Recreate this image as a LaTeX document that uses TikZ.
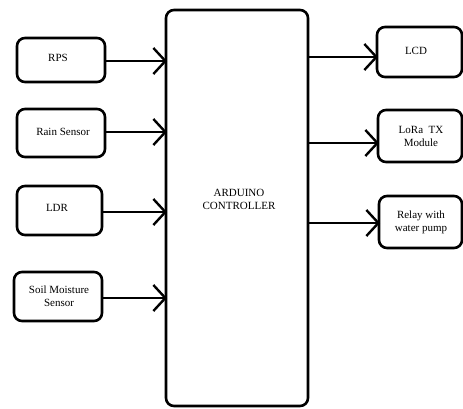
\documentclass[tikz,border=0pt]{standalone}
\usepackage{fontspec}
\setmainfont{Liberation Serif}
\usetikzlibrary{arrows.meta}
\begin{document}
\begin{tikzpicture}[x=1pt,y=-1pt,
  blk/.style={draw,line width=2.6pt,rounded corners=8pt,fill=white},
  conn/.style={line width=2.6pt,-{Straight Barb[length=12pt,width=26pt,line width=2.4pt]}},
  lbl/.style={font=\fontsize{11}{13}\selectfont,align=center,inner sep=0pt}]
\useasboundingbox (0,0) rectangle (463,408);
\fill[white] (0,0) rectangle (463,408);
% central controller
\draw[blk] (166,10) rectangle (308,406);
\node[lbl] (ctrl) at (239,199) {ARDUINO\\CONTROLLER};
% input boxes
\draw[blk] (17,38) rectangle (105,82);
\node[lbl] (rps) at (58,58) {RPS};
\draw[blk] (17,109) rectangle (105,157);
\node[lbl] (rain) at (63,132) {Rain Sensor};
\draw[blk] (17,186) rectangle (102,235);
\node[lbl] (ldr) at (57,208) {LDR};
\draw[blk] (14,272) rectangle (102,321);
\node[lbl] (soil) at (59,296) {Soil Moisture\\Sensor};
% output boxes
\draw[blk] (377,27) rectangle (462,77);
\node[lbl] (lcd) at (416,51) {LCD};
\draw[blk] (378,110) rectangle (462,162);
\node[lbl] (lora) at (421,136) {LoRa\ \ TX\\Module};
\draw[blk] (379,196) rectangle (462,248);
\node[lbl] (relay) at (421,222) {Relay with\\water pump};
% input connectors
\coordinate (rpsE) at (105,61);   \coordinate (rpsT) at (167,61);
\coordinate (rainE) at (105,132); \coordinate (rainT) at (167,132);
\coordinate (ldrE) at (102,212);  \coordinate (ldrT) at (167,212);
\coordinate (soilE) at (102,298); \coordinate (soilT) at (167,298);
\draw[conn] (rpsE) -- (rpsT);
\draw[conn] (rainE) -- (rainT);
\draw[conn] (ldrE) -- (ldrT);
\draw[conn] (soilE) -- (soilT);
% output connectors
\coordinate (lcdS) at (308,57);   \coordinate (lcdT) at (378,57);
\coordinate (loraS) at (308,143); \coordinate (loraT) at (379,143);
\coordinate (relS) at (308,223);  \coordinate (relT) at (380,223);
\draw[conn] (lcdS) -- (lcdT);
\draw[conn] (loraS) -- (loraT);
\draw[conn] (relS) -- (relT);
\end{tikzpicture}
\end{document}
